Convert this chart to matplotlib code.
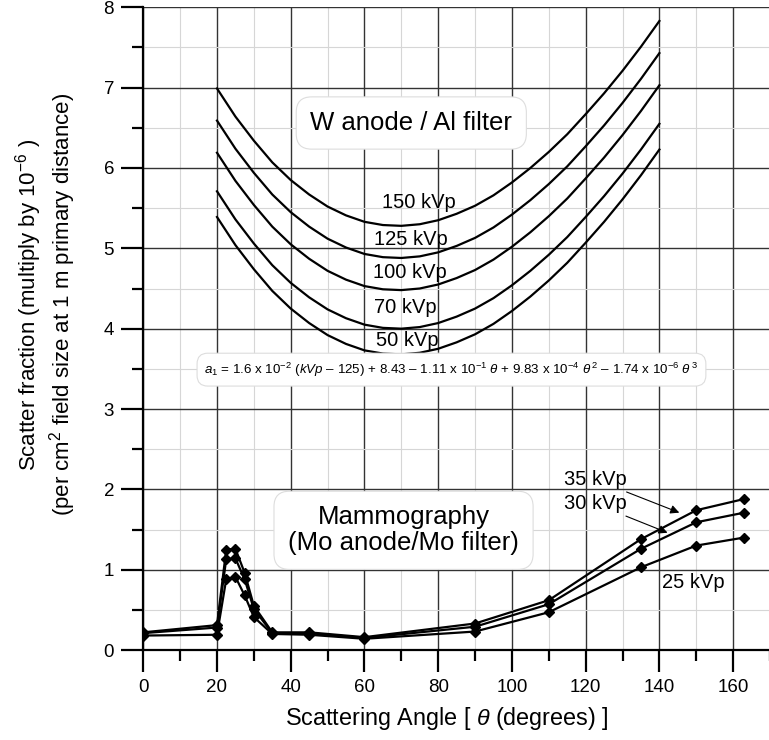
"""Scatter fraction vs scattering angle: W anode / Al filter curves and mammography data."""

import matplotlib

matplotlib.use("Agg")
import matplotlib.pyplot as plt
from matplotlib.ticker import MultipleLocator

plt.rcParams["font.family"] = ["Liberation Sans", "DejaVu Sans"]
plt.rcParams["mathtext.fontset"] = "custom"
plt.rcParams["mathtext.rm"] = "Liberation Sans"
plt.rcParams["mathtext.it"] = "Liberation Sans:italic"

# W anode / Al filter curves (read at 5 degree steps)
theta_w = [20, 25, 30, 35, 40, 45, 50, 55, 60, 65, 70, 75, 80,
           85, 90, 95, 100, 105, 110, 115, 120, 125, 130, 135, 140]
w_150 = [6.99, 6.64, 6.34, 6.07, 5.85, 5.67, 5.52, 5.41, 5.33, 5.29, 5.28, 5.30, 5.35,
         5.43, 5.53, 5.66, 5.82, 6.00, 6.20, 6.42, 6.67, 6.93, 7.21, 7.51, 7.83]
w_125 = [6.59, 6.24, 5.94, 5.67, 5.45, 5.27, 5.12, 5.01, 4.93, 4.89, 4.88, 4.90, 4.95,
         5.03, 5.13, 5.26, 5.42, 5.60, 5.80, 6.02, 6.27, 6.53, 6.81, 7.11, 7.43]
w_100 = [6.19, 5.84, 5.54, 5.27, 5.05, 4.87, 4.72, 4.61, 4.53, 4.49, 4.48, 4.50, 4.55,
         4.63, 4.73, 4.86, 5.02, 5.20, 5.40, 5.62, 5.87, 6.13, 6.41, 6.71, 7.03]
w_70 = [5.71, 5.36, 5.06, 4.79, 4.57, 4.39, 4.24, 4.13, 4.05, 4.01, 4.00, 4.02, 4.07,
        4.15, 4.25, 4.38, 4.54, 4.72, 4.92, 5.14, 5.39, 5.65, 5.93, 6.23, 6.55]
w_50 = [5.39, 5.04, 4.74, 4.47, 4.25, 4.07, 3.92, 3.81, 3.73, 3.69, 3.68, 3.70, 3.75,
        3.83, 3.93, 4.06, 4.22, 4.40, 4.60, 4.82, 5.07, 5.33, 5.61, 5.91, 6.23]
w_curves = [w_150, w_125, w_100, w_70, w_50]
w_labels = ["150 kVp", "125 kVp", "100 kVp", "70 kVp", "50 kVp"]
w_label_pos = [(74.7, 5.57), (72.7, 5.11), (72.3, 4.70), (71.1, 4.26), (71.6, 3.85)]

# Mammography (Mo anode / Mo filter) measured points
theta_m = [0, 20, 22.5, 25, 27.5, 30, 35, 45, 60, 90, 110, 135, 150, 163]
mammo_35 = [0.22, 0.31, 1.25, 1.26, 0.96, 0.55, 0.22, 0.22, 0.16, 0.33, 0.62, 1.38, 1.74, 1.88]
mammo_30 = [0.21, 0.28, 1.13, 1.14, 0.88, 0.51, 0.21, 0.21, 0.15, 0.29, 0.57, 1.26, 1.59, 1.71]
mammo_25 = [0.18, 0.19, 0.88, 0.91, 0.68, 0.41, 0.20, 0.19, 0.14, 0.23, 0.47, 1.03, 1.30, 1.40]

formula = (r"$a_1$ = 1.6 x 10$^{-2}$ ($kVp$ – 125) + 8.43 – 1.11 x 10$^{-1}$ $\theta$"
           r" + 9.83 x 10$^{-4}$ $\theta^{\,2}$ – 1.74 x 10$^{-6}$ $\theta^{\,3}$")

fig = plt.figure(figsize=(7.69, 7.40), dpi=100)
ax = fig.add_axes([0.1863, 0.1216, 0.8150, 0.8685])

ax.set_xlim(0, 170)
ax.set_ylim(0, 8)
ax.xaxis.set_major_locator(MultipleLocator(20))
ax.xaxis.set_minor_locator(MultipleLocator(10))
ax.yaxis.set_major_locator(MultipleLocator(1))
ax.yaxis.set_minor_locator(MultipleLocator(0.5))
ax.grid(which="major", color="#333333", lw=1.0, zorder=0)
ax.grid(which="minor", color="#d6d6d6", lw=0.8, zorder=0)
ax.set_axisbelow(True)

for side in ("top", "right"):
    ax.spines[side].set_visible(False)
for side in ("left", "bottom"):
    ax.spines[side].set_linewidth(1.6)
ax.tick_params(which="major", direction="out", length=16, width=1.6, labelsize=13.5, pad=5)
ax.tick_params(which="minor", direction="out", length=8, width=1.6)

for vals in w_curves:
    ax.plot(theta_w, vals, color="black", lw=1.6, zorder=3)
for lab, (x, y) in zip(w_labels, w_label_pos):
    ax.text(x, y, lab, fontsize=14.5, ha="center", va="center", zorder=4)

for vals in (mammo_35, mammo_30, mammo_25):
    ax.plot(theta_m, vals, color="black", lw=1.6, marker="D", markersize=5, zorder=3)

box = dict(boxstyle="round,pad=0.55,rounding_size=0.6", fc="white", ec="#dddddd", lw=0.8)
ax.text(72.7, 6.56, "W anode / Al filter", fontsize=18.5, ha="center", va="center",
        bbox=box, zorder=5)
ax.text(70.6, 1.49, "Mammography\n(Mo anode/Mo filter)", fontsize=18.5, ha="center",
        va="center", linespacing=1.1, bbox=box, zorder=5)
ax.text(83.6, 3.49, formula, fontsize=9.6, ha="center", va="center", zorder=5,
        bbox=dict(boxstyle="round,pad=0.55,rounding_size=0.8", fc="white", ec="#dddddd", lw=0.8))

arrow = dict(arrowstyle="-|>", color="black", lw=0.8, mutation_scale=13, shrinkA=0, shrinkB=0)
ax.annotate("35 kVp", xy=(145.4, 1.71), xytext=(122.6, 2.12), fontsize=14.5,
            ha="center", va="center", arrowprops=arrow, zorder=5)
ax.annotate("30 kVp", xy=(142.2, 1.46), xytext=(122.6, 1.82), fontsize=14.5,
            ha="center", va="center", arrowprops=arrow, zorder=5)
ax.text(149.1, 0.84, "25 kVp", fontsize=14.5, ha="center", va="center", zorder=5)

ax.set_xlabel(r"Scattering Angle [ $\theta$ (degrees) ]", fontsize=16.8)
ax.xaxis.set_label_coords(0.484, -0.085)
ax.set_ylabel("Scatter fraction (multiply by 10$^{-6}$ )\n"
              "(per cm$^2$ field size at 1 m primary distance)", fontsize=16,
              linespacing=1.15)
ax.yaxis.set_label_coords(-0.104, 0.537)

fig.savefig("out.png", dpi=100)
